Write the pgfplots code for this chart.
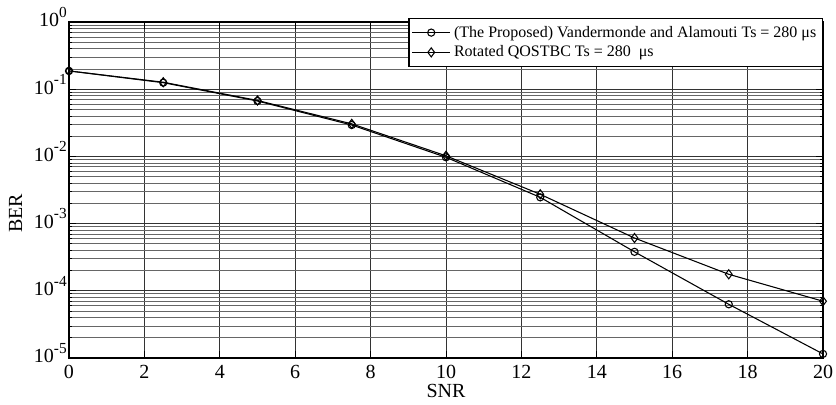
\documentclass[border=0pt]{standalone}
\usepackage{fontspec}
\setmainfont{Liberation Serif}
\usepackage{pgfplots}
\pgfplotsset{compat=1.18}
\newcommand{\pw}[1]{10\raisebox{0.48em}{\fontsize{11.5}{12}\selectfont #1}}

\begin{document}
\begin{tikzpicture}
\begin{semilogyaxis}[
  scale only axis,
  width=565.5pt, height=252pt,
  xmin=0, xmax=20, ymin=1e-5, ymax=1,
  xtick={0,2,...,20},
  ytick={1e-5,1e-4,1e-3,1e-2,1e-1,1},
  yticklabels={\pw{-5},\pw{-4},\pw{-3},\pw{-2},\pw{-1},\pw{0}},
  /pgf/number format/assume math mode=true,
  grid=both,
  major grid style={black!80, line width=0.7pt},
  minor grid style={black!60, line width=0.6pt},
  axis line style={line width=1.2pt},
  tick align=inside,
  tick style={black, line width=0.6pt},
  major tick length=5pt, minor tick length=2.5pt,
  ticklabel style={font=\fontsize{15}{18}\selectfont},
  yticklabel style={anchor=base east, inner xsep=1.5pt, inner ysep=0pt, yshift=-3.75pt},
  xticklabel style={anchor=base, inner ysep=0pt, yshift=-15.75pt},
  xlabel={SNR}, ylabel={BER},
  label style={font=\fontsize{15}{18}\selectfont},
  xlabel style={at={(axis description cs:0.5,0)}, anchor=base, yshift=-30pt},
  ylabel style={at={(axis description cs:0,0.43)}, anchor=center, yshift=40pt},
  legend cell align=left,
  legend style={at={(1,1)}, anchor=north east, yshift=3pt,
    font=\fontsize{12}{14}\selectfont, draw=black, line width=1.1pt, fill=white,
    inner xsep=2pt, inner ysep=3pt,
    nodes={inner sep=2.5pt}},
  legend image code/.code={\draw[mark repeat=2,mark phase=2,line width=0.8pt] plot coordinates {(0cm,0cm) (0.5cm,0cm) (1cm,0cm)};},
]
\addplot[black, line width=0.8pt, mark=o, mark size=2.7pt, mark options={solid, line width=0.8pt}] coordinates {
  (0,0.187) (2.5,0.125) (5,0.0667) (7.5,0.0293) (10,0.0097)
  (12.5,0.00246) (15,0.00038) (17.5,0.000063) (20,0.0000115)
};
\addlegendentry{(The Proposed) Vandermonde and Alamouti Ts = 280 μs}
\addplot[black, line width=0.8pt, mark=diamond, mark size=3.4pt, mark options={solid, line width=0.8pt}] coordinates {
  (0,0.187) (2.5,0.127) (5,0.068) (7.5,0.0305) (10,0.0102)
  (12.5,0.00273) (15,0.00061) (17.5,0.000176) (20,0.00007)
};
\addlegendentry{Rotated QOSTBC Ts = 280\ \ μs}
\end{semilogyaxis}
\pgfresetboundingbox
\useasboundingbox ([shift={(-51.75pt,-35.25pt)}]current axis.south west) rectangle ([shift={(9.75pt,16.5pt)}]current axis.north east);
\end{tikzpicture}
\end{document}
